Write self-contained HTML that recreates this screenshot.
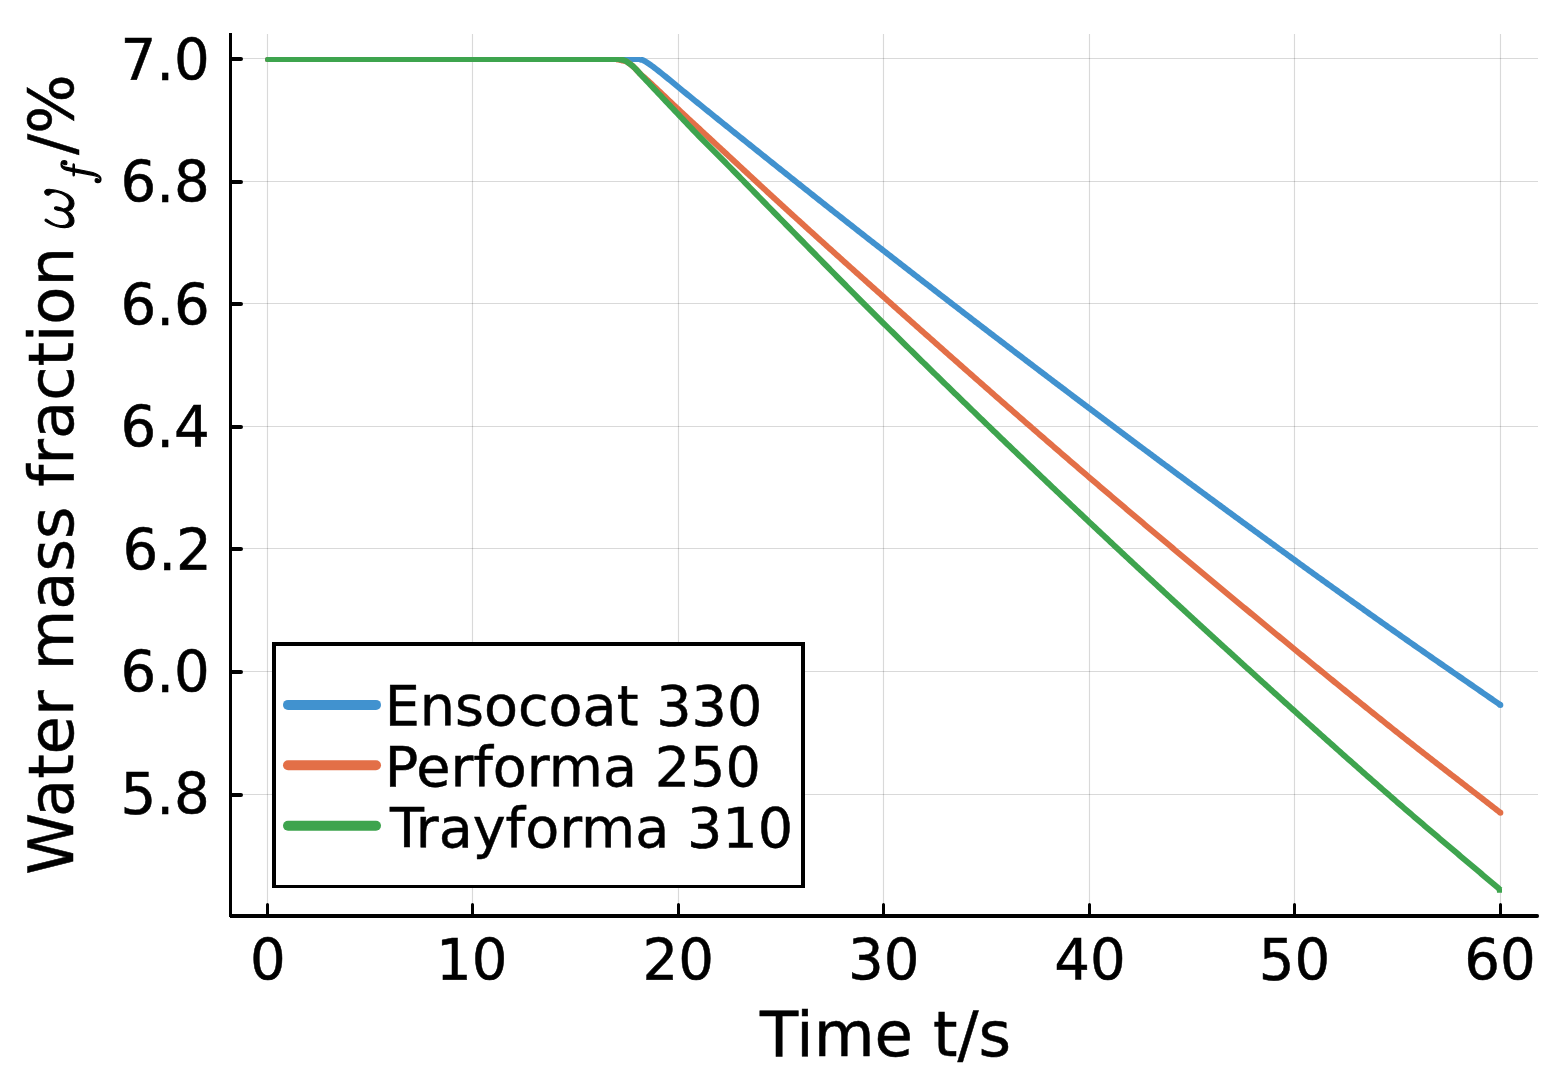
<!DOCTYPE html>
<html><head><meta charset="utf-8"><title>Water mass fraction vs time</title>
<style>html,body{margin:0;padding:0;background:#fff;}svg{display:block;}</style></head>
<body>
<svg width="1560" height="1080" viewBox="0 0 1560 1080">
<rect width="1560" height="1080" fill="#ffffff"/>
<path d="M267.5,34V916M472.5,34V916M678.5,34V916M883.5,34V916M1089.5,34V916M1294.5,34V916M1500.5,34V916" stroke="#000" stroke-opacity="0.15" stroke-width="1.15" fill="none"/>
<path d="M230.5,58.5H1538M230.5,181.5H1538M230.5,303.5H1538M230.5,426.5H1538M230.5,548.5H1538M230.5,671.5H1538M230.5,794.5H1538" stroke="#000" stroke-opacity="0.15" stroke-width="1.15" fill="none"/>
<defs><clipPath id="pc"><rect x="229" y="57" width="1311" height="860"/></clipPath></defs>
<path d="M267.5,57H640.3V62H267.5A2.5,2.5 0 0 1 267.5,57Z" fill="#4192CF"/>
<path clip-path="url(#pc)" d="M639.8,59.50L641.3,59.74 642.8,60.12 644.3,60.90 645.8,61.77 647.3,62.74 648.8,63.73 650.3,64.74 651.8,65.80 653.3,66.91 654.8,68.05 656.3,69.21 657.8,70.39 659.3,71.59 660.8,72.78 662.3,73.98 663.8,75.18 665.3,76.40 666.8,77.62 668.3,78.86 669.8,80.10 671.3,81.34 672.8,82.59 674.3,83.83 675.8,85.07 677.3,86.30 678.8,87.53 680.3,88.75 681.8,89.97 683.3,91.19 684.8,92.41 686.3,93.63 687.8,94.85 689.3,96.07 690.8,97.28 692.3,98.50 693.8,99.72 695.3,100.93 696.8,102.15 698.3,103.36 699.8,104.58 701.3,105.79 702.8,107.01 704.3,108.22 705.8,109.43 707.3,110.65 708.8,111.86 710.3,113.07 711.8,114.28 713.3,115.49 714.8,116.70 716.3,117.91 717.8,119.12 719.3,120.33 720.8,121.54 722.3,122.75 723.8,123.95 725.3,125.16 726.8,126.37 728.3,127.57 729.8,128.78 731.3,129.99 732.8,131.19 734.3,132.40 735.8,133.60 737.3,134.80 738.8,136.01 740.3,137.21 741.8,138.41 743.3,139.62 744.8,140.82 746.3,142.02 747.8,143.22 749.3,144.42 750.8,145.62 752.3,146.82 753.8,148.03 755.3,149.23 756.8,150.42 758.3,151.62 759.8,152.82 761.3,154.02 762.8,155.22 764.3,156.42 765.8,157.62 767.3,158.81 768.8,160.01 770.3,161.21 771.8,162.41 773.3,163.60 774.8,164.80 776.3,165.99 777.8,167.19 779.3,168.39 780.8,169.58 782.3,170.78 783.8,171.97 785.3,173.17 786.8,174.36 788.3,175.55 789.8,176.75 791.3,177.94 792.8,179.14 794.3,180.33 795.8,181.52 797.3,182.72 798.8,183.91 800.3,185.10 801.8,186.29 803.3,187.48 804.8,188.68 806.3,189.87 807.8,191.06 809.3,192.25 810.8,193.44 812.3,194.63 813.8,195.82 815.3,197.01 816.8,198.20 818.3,199.38 819.8,200.57 821.3,201.76 822.8,202.95 824.3,204.14 825.8,205.32 827.3,206.51 828.8,207.70 830.3,208.88 831.8,210.07 833.3,211.25 834.8,212.44 836.3,213.62 837.8,214.80 839.3,215.99 840.8,217.17 842.3,218.35 843.8,219.53 845.3,220.72 846.8,221.90 848.3,223.08 849.8,224.26 851.3,225.44 852.8,226.62 854.3,227.80 855.8,228.98 857.3,230.15 858.8,231.33 860.3,232.51 861.8,233.68 863.3,234.86 864.8,236.04 866.3,237.21 867.8,238.38 869.3,239.56 870.8,240.73 872.3,241.90 873.8,243.08 875.3,244.25 876.8,245.42 878.3,246.59 879.8,247.76 881.3,248.93 882.8,250.10 884.3,251.27 885.8,252.44 887.3,253.60 888.8,254.77 890.3,255.94 891.8,257.10 893.3,258.27 894.8,259.44 896.3,260.60 897.8,261.77 899.3,262.94 900.8,264.10 902.3,265.27 903.8,266.43 905.3,267.60 906.8,268.76 908.3,269.93 909.8,271.09 911.3,272.25 912.8,273.42 914.3,274.58 915.8,275.74 917.3,276.91 918.8,278.07 920.3,279.23 921.8,280.39 923.3,281.55 924.8,282.71 926.3,283.88 927.8,285.04 929.3,286.20 930.8,287.36 932.3,288.52 933.8,289.68 935.3,290.84 936.8,292.00 938.3,293.15 939.8,294.31 941.3,295.47 942.8,296.63 944.3,297.79 945.8,298.94 947.3,300.10 948.8,301.26 950.3,302.42 951.8,303.57 953.3,304.73 954.8,305.88 956.3,307.04 957.8,308.20 959.3,309.35 960.8,310.50 962.3,311.66 963.8,312.81 965.3,313.97 966.8,315.12 968.3,316.27 969.8,317.43 971.3,318.58 972.8,319.73 974.3,320.89 975.8,322.04 977.3,323.19 978.8,324.34 980.3,325.49 981.8,326.64 983.3,327.79 984.8,328.94 986.3,330.09 987.8,331.24 989.3,332.39 990.8,333.54 992.3,334.69 993.8,335.84 995.3,336.99 996.8,338.13 998.3,339.28 999.8,340.43 1001.3,341.58 1002.8,342.72 1004.3,343.87 1005.8,345.01 1007.3,346.16 1008.8,347.31 1010.3,348.45 1011.8,349.60 1013.3,350.74 1014.8,351.89 1016.3,353.03 1017.8,354.17 1019.3,355.32 1020.8,356.46 1022.3,357.60 1023.8,358.74 1025.3,359.89 1026.8,361.03 1028.3,362.17 1029.8,363.31 1031.3,364.45 1032.8,365.59 1034.3,366.73 1035.8,367.87 1037.3,369.01 1038.8,370.15 1040.3,371.29 1041.8,372.43 1043.3,373.57 1044.8,374.71 1046.3,375.84 1047.8,376.98 1049.3,378.12 1050.8,379.26 1052.3,380.39 1053.8,381.53 1055.3,382.66 1056.8,383.80 1058.3,384.94 1059.8,386.07 1061.3,387.20 1062.8,388.34 1064.3,389.47 1065.8,390.61 1067.3,391.74 1068.8,392.87 1070.3,394.01 1071.8,395.14 1073.3,396.27 1074.8,397.40 1076.3,398.53 1077.8,399.66 1079.3,400.80 1080.8,401.93 1082.3,403.06 1083.8,404.19 1085.3,405.31 1086.8,406.44 1088.3,407.57 1089.8,408.70 1091.3,409.83 1092.8,410.96 1094.3,412.08 1095.8,413.21 1097.3,414.34 1098.8,415.47 1100.3,416.59 1101.8,417.72 1103.3,418.84 1104.8,419.97 1106.3,421.09 1107.8,422.22 1109.3,423.34 1110.8,424.47 1112.3,425.59 1113.8,426.72 1115.3,427.84 1116.8,428.96 1118.3,430.09 1119.8,431.21 1121.3,432.33 1122.8,433.45 1124.3,434.57 1125.8,435.70 1127.3,436.82 1128.8,437.94 1130.3,439.06 1131.8,440.18 1133.3,441.30 1134.8,442.42 1136.3,443.54 1137.8,444.66 1139.3,445.77 1140.8,446.89 1142.3,448.01 1143.8,449.13 1145.3,450.25 1146.8,451.36 1148.3,452.48 1149.8,453.60 1151.3,454.71 1152.8,455.83 1154.3,456.95 1155.8,458.06 1157.3,459.18 1158.8,460.29 1160.3,461.41 1161.8,462.52 1163.3,463.64 1164.8,464.75 1166.3,465.86 1167.8,466.98 1169.3,468.09 1170.8,469.20 1172.3,470.31 1173.8,471.43 1175.3,472.54 1176.8,473.65 1178.3,474.76 1179.8,475.87 1181.3,476.98 1182.8,478.09 1184.3,479.20 1185.8,480.31 1187.3,481.42 1188.8,482.53 1190.3,483.64 1191.8,484.75 1193.3,485.86 1194.8,486.96 1196.3,488.07 1197.8,489.18 1199.3,490.28 1200.8,491.39 1202.3,492.50 1203.8,493.60 1205.3,494.71 1206.8,495.82 1208.3,496.92 1209.8,498.03 1211.3,499.13 1212.8,500.23 1214.3,501.34 1215.8,502.44 1217.3,503.55 1218.8,504.65 1220.3,505.75 1221.8,506.85 1223.3,507.96 1224.8,509.06 1226.3,510.16 1227.8,511.26 1229.3,512.36 1230.8,513.46 1232.3,514.56 1233.8,515.66 1235.3,516.76 1236.8,517.86 1238.3,518.96 1239.8,520.06 1241.3,521.16 1242.8,522.26 1244.3,523.36 1245.8,524.45 1247.3,525.55 1248.8,526.65 1250.3,527.74 1251.8,528.84 1253.3,529.94 1254.8,531.03 1256.3,532.13 1257.8,533.22 1259.3,534.32 1260.8,535.41 1262.3,536.51 1263.8,537.60 1265.3,538.70 1266.8,539.79 1268.3,540.88 1269.8,541.98 1271.3,543.07 1272.8,544.16 1274.3,545.25 1275.8,546.34 1277.3,547.43 1278.8,548.53 1280.3,549.62 1281.8,550.71 1283.3,551.80 1284.8,552.89 1286.3,553.98 1287.8,555.07 1289.3,556.15 1290.8,557.24 1292.3,558.33 1293.8,559.42 1295.3,560.51 1296.8,561.59 1298.3,562.68 1299.8,563.77 1301.3,564.85 1302.8,565.94 1304.3,567.02 1305.8,568.11 1307.3,569.19 1308.8,570.28 1310.3,571.36 1311.8,572.44 1313.3,573.52 1314.8,574.60 1316.3,575.69 1317.8,576.77 1319.3,577.85 1320.8,578.93 1322.3,580.01 1323.8,581.08 1325.3,582.16 1326.8,583.24 1328.3,584.32 1329.8,585.39 1331.3,586.47 1332.8,587.55 1334.3,588.62 1335.8,589.70 1337.3,590.77 1338.8,591.85 1340.3,592.92 1341.8,593.99 1343.3,595.07 1344.8,596.14 1346.3,597.21 1347.8,598.28 1349.3,599.35 1350.8,600.42 1352.3,601.49 1353.8,602.56 1355.3,603.63 1356.8,604.70 1358.3,605.77 1359.8,606.84 1361.3,607.90 1362.8,608.97 1364.3,610.04 1365.8,611.10 1367.3,612.17 1368.8,613.23 1370.3,614.30 1371.8,615.36 1373.3,616.43 1374.8,617.49 1376.3,618.55 1377.8,619.62 1379.3,620.68 1380.8,621.74 1382.3,622.80 1383.8,623.86 1385.3,624.92 1386.8,625.98 1388.3,627.04 1389.8,628.10 1391.3,629.16 1392.8,630.22 1394.3,631.27 1395.8,632.33 1397.3,633.39 1398.8,634.45 1400.3,635.50 1401.8,636.56 1403.3,637.61 1404.8,638.66 1406.3,639.71 1407.8,640.77 1409.3,641.82 1410.8,642.87 1412.3,643.92 1413.8,644.97 1415.3,646.01 1416.8,647.06 1418.3,648.11 1419.8,649.15 1421.3,650.20 1422.8,651.24 1424.3,652.29 1425.8,653.33 1427.3,654.38 1428.8,655.42 1430.3,656.46 1431.8,657.50 1433.3,658.55 1434.8,659.59 1436.3,660.63 1437.8,661.67 1439.3,662.71 1440.8,663.75 1442.3,664.79 1443.8,665.83 1445.3,666.87 1446.8,667.90 1448.3,668.94 1449.8,669.98 1451.3,671.02 1452.8,672.06 1454.3,673.09 1455.8,674.13 1457.3,675.17 1458.8,676.21 1460.3,677.24 1461.8,678.28 1463.3,679.32 1464.8,680.35 1466.3,681.39 1467.8,682.43 1469.3,683.46 1470.8,684.50 1472.3,685.54 1473.8,686.58 1475.3,687.61 1476.8,688.65 1478.3,689.69 1479.8,690.72 1481.3,691.76 1482.8,692.80 1484.3,693.84 1485.8,694.88 1487.3,695.92 1488.8,696.95 1490.3,697.99 1491.8,699.03 1493.3,700.07 1494.8,701.11 1496.3,702.15 1497.8,703.19 1499.3,704.24 1500.4,705.00" stroke="#4192CF" stroke-width="5.9" fill="none" stroke-linejoin="round" stroke-linecap="butt"/>
<circle cx="1500.4" cy="705.0" r="2.95" fill="#4192CF"/>
<path d="M267.5,57H617.0V62H267.5A2.5,2.5 0 0 1 267.5,57Z" fill="#E36F47"/>
<path clip-path="url(#pc)" d="M616.5,59.50L618.0,59.67 619.5,59.87 621.0,60.18 622.5,60.64 624.0,60.92 625.5,61.21 627.0,61.83 628.5,62.92 630.0,63.99 631.5,65.12 633.0,66.37 634.5,67.78 636.0,69.31 637.5,70.93 639.0,72.59 640.5,74.12 642.0,75.40 643.5,76.69 645.0,78.00 646.5,79.36 648.0,80.74 649.5,82.14 651.0,83.53 652.5,84.93 654.0,86.34 655.5,87.75 657.0,89.17 658.5,90.59 660.0,92.00 661.5,93.42 663.0,94.83 664.5,96.25 666.0,97.68 667.5,99.10 669.0,100.52 670.5,101.95 672.0,103.37 673.5,104.79 675.0,106.20 676.5,107.62 678.0,109.02 679.5,110.43 681.0,111.83 682.5,113.23 684.0,114.63 685.5,116.02 687.0,117.41 688.5,118.80 690.0,120.19 691.5,121.58 693.0,122.97 694.5,124.36 696.0,125.75 697.5,127.14 699.0,128.53 700.5,129.92 702.0,131.31 703.5,132.70 705.0,134.08 706.5,135.47 708.0,136.86 709.5,138.25 711.0,139.64 712.5,141.02 714.0,142.41 715.5,143.80 717.0,145.19 718.5,146.57 720.0,147.96 721.5,149.35 723.0,150.74 724.5,152.13 726.0,153.52 727.5,154.91 729.0,156.31 730.5,157.70 732.0,159.09 733.5,160.48 735.0,161.88 736.5,163.27 738.0,164.66 739.5,166.06 741.0,167.45 742.5,168.85 744.0,170.24 745.5,171.63 747.0,173.03 748.5,174.42 750.0,175.81 751.5,177.20 753.0,178.60 754.5,179.99 756.0,181.38 757.5,182.77 759.0,184.16 760.5,185.55 762.0,186.93 763.5,188.32 765.0,189.71 766.5,191.09 768.0,192.48 769.5,193.86 771.0,195.24 772.5,196.62 774.0,198.00 775.5,199.38 777.0,200.75 778.5,202.13 780.0,203.50 781.5,204.87 783.0,206.25 784.5,207.62 786.0,208.99 787.5,210.35 789.0,211.72 790.5,213.09 792.0,214.46 793.5,215.82 795.0,217.19 796.5,218.56 798.0,219.92 799.5,221.28 801.0,222.65 802.5,224.01 804.0,225.37 805.5,226.73 807.0,228.10 808.5,229.46 810.0,230.82 811.5,232.18 813.0,233.53 814.5,234.89 816.0,236.25 817.5,237.61 819.0,238.96 820.5,240.32 822.0,241.68 823.5,243.03 825.0,244.38 826.5,245.74 828.0,247.09 829.5,248.44 831.0,249.80 832.5,251.15 834.0,252.50 835.5,253.85 837.0,255.20 838.5,256.55 840.0,257.90 841.5,259.25 843.0,260.60 844.5,261.94 846.0,263.29 847.5,264.64 849.0,265.98 850.5,267.33 852.0,268.67 853.5,270.02 855.0,271.36 856.5,272.71 858.0,274.05 859.5,275.39 861.0,276.74 862.5,278.08 864.0,279.42 865.5,280.76 867.0,282.10 868.5,283.44 870.0,284.78 871.5,286.12 873.0,287.46 874.5,288.80 876.0,290.14 877.5,291.47 879.0,292.81 880.5,294.15 882.0,295.49 883.5,296.82 885.0,298.16 886.5,299.49 888.0,300.83 889.5,302.16 891.0,303.50 892.5,304.84 894.0,306.17 895.5,307.51 897.0,308.84 898.5,310.18 900.0,311.51 901.5,312.84 903.0,314.18 904.5,315.51 906.0,316.85 907.5,318.18 909.0,319.51 910.5,320.85 912.0,322.18 913.5,323.51 915.0,324.84 916.5,326.18 918.0,327.51 919.5,328.84 921.0,330.17 922.5,331.51 924.0,332.84 925.5,334.17 927.0,335.50 928.5,336.83 930.0,338.16 931.5,339.49 933.0,340.82 934.5,342.15 936.0,343.48 937.5,344.81 939.0,346.14 940.5,347.47 942.0,348.80 943.5,350.12 945.0,351.45 946.5,352.78 948.0,354.11 949.5,355.43 951.0,356.76 952.5,358.09 954.0,359.41 955.5,360.74 957.0,362.07 958.5,363.39 960.0,364.72 961.5,366.04 963.0,367.37 964.5,368.69 966.0,370.01 967.5,371.34 969.0,372.66 970.5,373.98 972.0,375.31 973.5,376.63 975.0,377.95 976.5,379.27 978.0,380.59 979.5,381.91 981.0,383.24 982.5,384.56 984.0,385.88 985.5,387.20 987.0,388.51 988.5,389.83 990.0,391.15 991.5,392.47 993.0,393.79 994.5,395.10 996.0,396.42 997.5,397.74 999.0,399.05 1000.5,400.37 1002.0,401.68 1003.5,403.00 1005.0,404.31 1006.5,405.63 1008.0,406.94 1009.5,408.25 1011.0,409.57 1012.5,410.88 1014.0,412.19 1015.5,413.50 1017.0,414.81 1018.5,416.12 1020.0,417.43 1021.5,418.74 1023.0,420.05 1024.5,421.36 1026.0,422.67 1027.5,423.98 1029.0,425.29 1030.5,426.59 1032.0,427.90 1033.5,429.20 1035.0,430.51 1036.5,431.82 1038.0,433.12 1039.5,434.42 1041.0,435.73 1042.5,437.03 1044.0,438.33 1045.5,439.63 1047.0,440.94 1048.5,442.24 1050.0,443.54 1051.5,444.84 1053.0,446.14 1054.5,447.44 1056.0,448.73 1057.5,450.03 1059.0,451.33 1060.5,452.63 1062.0,453.92 1063.5,455.22 1065.0,456.51 1066.5,457.81 1068.0,459.10 1069.5,460.40 1071.0,461.69 1072.5,462.98 1074.0,464.27 1075.5,465.56 1077.0,466.85 1078.5,468.14 1080.0,469.43 1081.5,470.72 1083.0,472.01 1084.5,473.30 1086.0,474.59 1087.5,475.87 1089.0,477.16 1090.5,478.44 1092.0,479.73 1093.5,481.01 1095.0,482.29 1096.5,483.58 1098.0,484.86 1099.5,486.14 1101.0,487.42 1102.5,488.71 1104.0,489.99 1105.5,491.27 1107.0,492.55 1108.5,493.82 1110.0,495.10 1111.5,496.38 1113.0,497.66 1114.5,498.94 1116.0,500.21 1117.5,501.49 1119.0,502.76 1120.5,504.04 1122.0,505.31 1123.5,506.59 1125.0,507.86 1126.5,509.14 1128.0,510.41 1129.5,511.68 1131.0,512.95 1132.5,514.22 1134.0,515.50 1135.5,516.77 1137.0,518.04 1138.5,519.31 1140.0,520.57 1141.5,521.84 1143.0,523.11 1144.5,524.38 1146.0,525.65 1147.5,526.91 1149.0,528.18 1150.5,529.45 1152.0,530.71 1153.5,531.98 1155.0,533.24 1156.5,534.50 1158.0,535.77 1159.5,537.03 1161.0,538.29 1162.5,539.56 1164.0,540.82 1165.5,542.08 1167.0,543.34 1168.5,544.60 1170.0,545.86 1171.5,547.12 1173.0,548.38 1174.5,549.64 1176.0,550.90 1177.5,552.16 1179.0,553.42 1180.5,554.67 1182.0,555.93 1183.5,557.19 1185.0,558.44 1186.5,559.70 1188.0,560.96 1189.5,562.21 1191.0,563.47 1192.5,564.72 1194.0,565.97 1195.5,567.23 1197.0,568.48 1198.5,569.73 1200.0,570.99 1201.5,572.24 1203.0,573.49 1204.5,574.74 1206.0,575.99 1207.5,577.24 1209.0,578.49 1210.5,579.74 1212.0,580.99 1213.5,582.24 1215.0,583.49 1216.5,584.74 1218.0,585.99 1219.5,587.23 1221.0,588.48 1222.5,589.73 1224.0,590.98 1225.5,592.22 1227.0,593.47 1228.5,594.71 1230.0,595.96 1231.5,597.20 1233.0,598.45 1234.5,599.69 1236.0,600.94 1237.5,602.18 1239.0,603.42 1240.5,604.67 1242.0,605.91 1243.5,607.15 1245.0,608.39 1246.5,609.64 1248.0,610.88 1249.5,612.12 1251.0,613.36 1252.5,614.60 1254.0,615.84 1255.5,617.08 1257.0,618.32 1258.5,619.56 1260.0,620.80 1261.5,622.04 1263.0,623.28 1264.5,624.51 1266.0,625.75 1267.5,626.99 1269.0,628.23 1270.5,629.46 1272.0,630.70 1273.5,631.94 1275.0,633.17 1276.5,634.41 1278.0,635.64 1279.5,636.88 1281.0,638.11 1282.5,639.35 1284.0,640.58 1285.5,641.82 1287.0,643.05 1288.5,644.29 1290.0,645.52 1291.5,646.75 1293.0,647.99 1294.5,649.22 1296.0,650.45 1297.5,651.68 1299.0,652.91 1300.5,654.15 1302.0,655.38 1303.5,656.61 1305.0,657.84 1306.5,659.07 1308.0,660.30 1309.5,661.53 1311.0,662.75 1312.5,663.98 1314.0,665.21 1315.5,666.44 1317.0,667.66 1318.5,668.89 1320.0,670.12 1321.5,671.34 1323.0,672.57 1324.5,673.79 1326.0,675.01 1327.5,676.24 1329.0,677.46 1330.5,678.68 1332.0,679.90 1333.5,681.13 1335.0,682.35 1336.5,683.57 1338.0,684.79 1339.5,686.00 1341.0,687.22 1342.5,688.44 1344.0,689.66 1345.5,690.88 1347.0,692.09 1348.5,693.31 1350.0,694.52 1351.5,695.74 1353.0,696.95 1354.5,698.16 1356.0,699.37 1357.5,700.59 1359.0,701.80 1360.5,703.01 1362.0,704.22 1363.5,705.42 1365.0,706.63 1366.5,707.84 1368.0,709.05 1369.5,710.25 1371.0,711.46 1372.5,712.66 1374.0,713.87 1375.5,715.07 1377.0,716.27 1378.5,717.47 1380.0,718.67 1381.5,719.87 1383.0,721.07 1384.5,722.27 1386.0,723.47 1387.5,724.66 1389.0,725.86 1390.5,727.06 1392.0,728.25 1393.5,729.44 1395.0,730.64 1396.5,731.83 1398.0,733.02 1399.5,734.21 1401.0,735.39 1402.5,736.58 1404.0,737.77 1405.5,738.95 1407.0,740.13 1408.5,741.32 1410.0,742.50 1411.5,743.68 1413.0,744.86 1414.5,746.03 1416.0,747.21 1417.5,748.39 1419.0,749.56 1420.5,750.73 1422.0,751.91 1423.5,753.08 1425.0,754.25 1426.5,755.42 1428.0,756.59 1429.5,757.76 1431.0,758.93 1432.5,760.09 1434.0,761.26 1435.5,762.43 1437.0,763.59 1438.5,764.76 1440.0,765.92 1441.5,767.09 1443.0,768.25 1444.5,769.41 1446.0,770.57 1447.5,771.74 1449.0,772.90 1450.5,774.06 1452.0,775.22 1453.5,776.38 1455.0,777.54 1456.5,778.70 1458.0,779.86 1459.5,781.02 1461.0,782.18 1462.5,783.34 1464.0,784.50 1465.5,785.66 1467.0,786.82 1468.5,787.98 1470.0,789.14 1471.5,790.30 1473.0,791.46 1474.5,792.62 1476.0,793.78 1477.5,794.94 1479.0,796.10 1480.5,797.26 1482.0,798.42 1483.5,799.58 1485.0,800.75 1486.5,801.91 1488.0,803.07 1489.5,804.23 1491.0,805.40 1492.5,806.56 1494.0,807.73 1495.5,808.89 1497.0,810.06 1498.5,811.22 1500.0,812.39 1500.4,812.70" stroke="#E36F47" stroke-width="5.9" fill="none" stroke-linejoin="round" stroke-linecap="butt"/>
<circle cx="1500.4" cy="812.7" r="2.95" fill="#E36F47"/>
<path d="M267.5,57H619.5V62H267.5A2.5,2.5 0 0 1 267.5,57Z" fill="#3EA44E"/>
<path clip-path="url(#pc)" d="M619.0,59.50L620.5,59.63 622.0,59.78 623.5,60.09 625.0,60.67 626.5,61.47 628.0,62.54 629.5,63.61 631.0,64.71 632.5,65.91 634.0,67.27 635.5,68.77 637.0,70.36 638.5,72.01 640.0,73.69 641.5,75.37 643.0,76.99 644.5,78.58 646.0,80.17 647.5,81.76 649.0,83.35 650.5,84.94 652.0,86.53 653.5,88.12 655.0,89.71 656.5,91.31 658.0,92.90 659.5,94.49 661.0,96.08 662.5,97.67 664.0,99.27 665.5,100.86 667.0,102.45 668.5,104.04 670.0,105.62 671.5,107.21 673.0,108.80 674.5,110.38 676.0,111.97 677.5,113.55 679.0,115.13 680.5,116.72 682.0,118.30 683.5,119.89 685.0,121.48 686.5,123.06 688.0,124.65 689.5,126.23 691.0,127.81 692.5,129.38 694.0,130.95 695.5,132.51 697.0,134.06 698.5,135.60 700.0,137.13 701.5,138.65 703.0,140.16 704.5,141.66 706.0,143.16 707.5,144.65 709.0,146.14 710.5,147.63 712.0,149.11 713.5,150.60 715.0,152.09 716.5,153.59 718.0,155.09 719.5,156.60 721.0,158.12 722.5,159.63 724.0,161.15 725.5,162.67 727.0,164.20 728.5,165.72 730.0,167.25 731.5,168.78 733.0,170.31 734.5,171.84 736.0,173.37 737.5,174.91 739.0,176.44 740.5,177.98 742.0,179.51 743.5,181.05 745.0,182.59 746.5,184.13 748.0,185.67 749.5,187.21 751.0,188.75 752.5,190.29 754.0,191.83 755.5,193.37 757.0,194.92 758.5,196.46 760.0,198.00 761.5,199.54 763.0,201.08 764.5,202.62 766.0,204.16 767.5,205.70 769.0,207.23 770.5,208.77 772.0,210.31 773.5,211.84 775.0,213.37 776.5,214.91 778.0,216.44 779.5,217.97 781.0,219.50 782.5,221.02 784.0,222.55 785.5,224.08 787.0,225.61 788.5,227.14 790.0,228.67 791.5,230.20 793.0,231.73 794.5,233.25 796.0,234.79 797.5,236.32 799.0,237.85 800.5,239.38 802.0,240.91 803.5,242.44 805.0,243.97 806.5,245.50 808.0,247.03 809.5,248.56 811.0,250.09 812.5,251.62 814.0,253.15 815.5,254.68 817.0,256.21 818.5,257.74 820.0,259.27 821.5,260.80 823.0,262.32 824.5,263.85 826.0,265.38 827.5,266.91 829.0,268.43 830.5,269.96 832.0,271.48 833.5,273.01 835.0,274.53 836.5,276.06 838.0,277.58 839.5,279.10 841.0,280.62 842.5,282.14 844.0,283.66 845.5,285.18 847.0,286.70 848.5,288.22 850.0,289.74 851.5,291.25 853.0,292.77 854.5,294.28 856.0,295.79 857.5,297.30 859.0,298.81 860.5,300.32 862.0,301.83 863.5,303.34 865.0,304.84 866.5,306.35 868.0,307.85 869.5,309.35 871.0,310.85 872.5,312.35 874.0,313.85 875.5,315.35 877.0,316.84 878.5,318.34 880.0,319.83 881.5,321.32 883.0,322.81 884.5,324.29 886.0,325.78 887.5,327.27 889.0,328.75 890.5,330.24 892.0,331.72 893.5,333.20 895.0,334.69 896.5,336.17 898.0,337.65 899.5,339.13 901.0,340.61 902.5,342.09 904.0,343.57 905.5,345.05 907.0,346.53 908.5,348.00 910.0,349.48 911.5,350.96 913.0,352.43 914.5,353.91 916.0,355.38 917.5,356.86 919.0,358.33 920.5,359.80 922.0,361.28 923.5,362.75 925.0,364.22 926.5,365.69 928.0,367.16 929.5,368.63 931.0,370.10 932.5,371.57 934.0,373.03 935.5,374.50 937.0,375.97 938.5,377.43 940.0,378.90 941.5,380.36 943.0,381.83 944.5,383.29 946.0,384.76 947.5,386.22 949.0,387.68 950.5,389.14 952.0,390.60 953.5,392.06 955.0,393.52 956.5,394.98 958.0,396.44 959.5,397.90 961.0,399.36 962.5,400.81 964.0,402.27 965.5,403.73 967.0,405.18 968.5,406.64 970.0,408.09 971.5,409.54 973.0,411.00 974.5,412.45 976.0,413.90 977.5,415.35 979.0,416.81 980.5,418.26 982.0,419.71 983.5,421.16 985.0,422.60 986.5,424.05 988.0,425.50 989.5,426.95 991.0,428.40 992.5,429.84 994.0,431.29 995.5,432.73 997.0,434.18 998.5,435.62 1000.0,437.07 1001.5,438.51 1003.0,439.95 1004.5,441.39 1006.0,442.83 1007.5,444.28 1009.0,445.72 1010.5,447.16 1012.0,448.60 1013.5,450.03 1015.0,451.47 1016.5,452.91 1018.0,454.35 1019.5,455.79 1021.0,457.22 1022.5,458.66 1024.0,460.09 1025.5,461.53 1027.0,462.96 1028.5,464.40 1030.0,465.83 1031.5,467.26 1033.0,468.70 1034.5,470.13 1036.0,471.56 1037.5,472.99 1039.0,474.42 1040.5,475.85 1042.0,477.28 1043.5,478.71 1045.0,480.14 1046.5,481.56 1048.0,482.99 1049.5,484.42 1051.0,485.85 1052.5,487.27 1054.0,488.70 1055.5,490.12 1057.0,491.55 1058.5,492.97 1060.0,494.39 1061.5,495.82 1063.0,497.24 1064.5,498.66 1066.0,500.08 1067.5,501.50 1069.0,502.93 1070.5,504.35 1072.0,505.77 1073.5,507.18 1075.0,508.60 1076.5,510.02 1078.0,511.44 1079.5,512.86 1081.0,514.27 1082.5,515.69 1084.0,517.11 1085.5,518.52 1087.0,519.94 1088.5,521.35 1090.0,522.77 1091.5,524.18 1093.0,525.59 1094.5,527.00 1096.0,528.42 1097.5,529.83 1099.0,531.24 1100.5,532.65 1102.0,534.06 1103.5,535.47 1105.0,536.88 1106.5,538.28 1108.0,539.69 1109.5,541.10 1111.0,542.51 1112.5,543.91 1114.0,545.32 1115.5,546.72 1117.0,548.13 1118.5,549.53 1120.0,550.93 1121.5,552.34 1123.0,553.74 1124.5,555.14 1126.0,556.54 1127.5,557.94 1129.0,559.34 1130.5,560.74 1132.0,562.14 1133.5,563.54 1135.0,564.94 1136.5,566.33 1138.0,567.73 1139.5,569.13 1141.0,570.52 1142.5,571.92 1144.0,573.31 1145.5,574.71 1147.0,576.10 1148.5,577.50 1150.0,578.89 1151.5,580.28 1153.0,581.67 1154.5,583.06 1156.0,584.46 1157.5,585.85 1159.0,587.24 1160.5,588.63 1162.0,590.02 1163.5,591.40 1165.0,592.79 1166.5,594.18 1168.0,595.57 1169.5,596.95 1171.0,598.34 1172.5,599.73 1174.0,601.11 1175.5,602.50 1177.0,603.88 1178.5,605.26 1180.0,606.65 1181.5,608.03 1183.0,609.41 1184.5,610.79 1186.0,612.18 1187.5,613.56 1189.0,614.94 1190.5,616.32 1192.0,617.70 1193.5,619.08 1195.0,620.46 1196.5,621.84 1198.0,623.21 1199.5,624.59 1201.0,625.97 1202.5,627.34 1204.0,628.72 1205.5,630.10 1207.0,631.47 1208.5,632.85 1210.0,634.22 1211.5,635.60 1213.0,636.97 1214.5,638.34 1216.0,639.72 1217.5,641.09 1219.0,642.46 1220.5,643.83 1222.0,645.20 1223.5,646.57 1225.0,647.94 1226.5,649.31 1228.0,650.68 1229.5,652.05 1231.0,653.42 1232.5,654.79 1234.0,656.16 1235.5,657.52 1237.0,658.89 1238.5,660.26 1240.0,661.62 1241.5,662.99 1243.0,664.36 1244.5,665.72 1246.0,667.09 1247.5,668.45 1249.0,669.81 1250.5,671.18 1252.0,672.54 1253.5,673.90 1255.0,675.27 1256.5,676.63 1258.0,677.99 1259.5,679.35 1261.0,680.71 1262.5,682.07 1264.0,683.43 1265.5,684.79 1267.0,686.15 1268.5,687.51 1270.0,688.87 1271.5,690.23 1273.0,691.58 1274.5,692.94 1276.0,694.30 1277.5,695.66 1279.0,697.01 1280.5,698.37 1282.0,699.72 1283.5,701.08 1285.0,702.44 1286.5,703.79 1288.0,705.14 1289.5,706.50 1291.0,707.85 1292.5,709.21 1294.0,710.56 1295.5,711.91 1297.0,713.26 1298.5,714.62 1300.0,715.97 1301.5,717.32 1303.0,718.67 1304.5,720.02 1306.0,721.37 1307.5,722.72 1309.0,724.07 1310.5,725.41 1312.0,726.76 1313.5,728.11 1315.0,729.45 1316.5,730.80 1318.0,732.14 1319.5,733.49 1321.0,734.83 1322.5,736.18 1324.0,737.52 1325.5,738.86 1327.0,740.20 1328.5,741.54 1330.0,742.89 1331.5,744.23 1333.0,745.56 1334.5,746.90 1336.0,748.24 1337.5,749.58 1339.0,750.91 1340.5,752.25 1342.0,753.59 1343.5,754.92 1345.0,756.25 1346.5,757.59 1348.0,758.92 1349.5,760.25 1351.0,761.58 1352.5,762.91 1354.0,764.24 1355.5,765.57 1357.0,766.90 1358.5,768.22 1360.0,769.55 1361.5,770.87 1363.0,772.20 1364.5,773.52 1366.0,774.84 1367.5,776.17 1369.0,777.49 1370.5,778.81 1372.0,780.13 1373.5,781.45 1375.0,782.76 1376.5,784.08 1378.0,785.40 1379.5,786.71 1381.0,788.02 1382.5,789.34 1384.0,790.65 1385.5,791.96 1387.0,793.27 1388.5,794.58 1390.0,795.89 1391.5,797.19 1393.0,798.50 1394.5,799.81 1396.0,801.11 1397.5,802.41 1399.0,803.72 1400.5,805.02 1402.0,806.31 1403.5,807.61 1405.0,808.91 1406.5,810.20 1408.0,811.49 1409.5,812.79 1411.0,814.08 1412.5,815.37 1414.0,816.65 1415.5,817.94 1417.0,819.23 1418.5,820.51 1420.0,821.79 1421.5,823.08 1423.0,824.36 1424.5,825.64 1426.0,826.92 1427.5,828.19 1429.0,829.47 1430.5,830.75 1432.0,832.02 1433.5,833.30 1435.0,834.57 1436.5,835.85 1438.0,837.12 1439.5,838.39 1441.0,839.66 1442.5,840.93 1444.0,842.20 1445.5,843.47 1447.0,844.74 1448.5,846.01 1450.0,847.28 1451.5,848.55 1453.0,849.82 1454.5,851.08 1456.0,852.35 1457.5,853.62 1459.0,854.88 1460.5,856.15 1462.0,857.42 1463.5,858.68 1465.0,859.95 1466.5,861.21 1468.0,862.48 1469.5,863.75 1471.0,865.01 1472.5,866.28 1474.0,867.55 1475.5,868.81 1477.0,870.08 1478.5,871.35 1480.0,872.62 1481.5,873.88 1483.0,875.15 1484.5,876.42 1486.0,877.69 1487.5,878.96 1489.0,880.23 1490.5,881.50 1492.0,882.77 1493.5,884.04 1495.0,885.31 1496.5,886.59 1498.0,887.86 1499.5,889.13 1500.4,889.90" stroke="#3EA44E" stroke-width="5.9" fill="none" stroke-linejoin="round" stroke-linecap="butt"/>
<path d="M1496.5,886.6L1502,888.4V892.8H1497Z" fill="#3EA44E"/>
<path d="M230.5,33V917" stroke="#000" stroke-width="3" fill="none"/>
<path d="M230,916H1537.2" stroke="#000" stroke-width="4" fill="none"/><circle cx="1537.2" cy="916" r="1.9" fill="#000"/>
<path d="M231,59.0H241M231,182.0H241M231,304.0H241M231,427.0H241M231,549.0H241M231,672.0H241M231,795.0H241" stroke="#000" stroke-width="4" stroke-linecap="round" fill="none"/>
<path d="M267.5,915V904.5M472.5,915V904.5M678.5,915V904.5M883.5,915V904.5M1089.5,915V904.5M1294.5,915V904.5M1500.5,915V904.5" stroke="#000" stroke-width="3" stroke-linecap="round" fill="none"/>
<g font-family="DejaVu Sans, Liberation Sans, sans-serif" stroke="#000" stroke-width="0.5" font-size="56.2" fill="#000">
<text transform="translate(120.50,79.75)">7.0</text>
<text transform="translate(120.50,201.75)">6.8</text>
<text transform="translate(120.50,324.75)">6.6</text>
<text transform="translate(120.50,446.75)">6.4</text>
<text transform="translate(122.50,569.75)">6.2</text>
<text transform="translate(120.50,691.75)">6.0</text>
<text transform="translate(120.50,813.75)">5.8</text>
<text transform="translate(250.00,979.75)">0</text>
<text transform="translate(435.97,979.75)">10</text>
<text transform="translate(642.43,979.75)">20</text>
<text transform="translate(847.90,979.75)">30</text>
<text transform="translate(1054.37,979.75)">40</text>
<text transform="translate(1258.84,979.75)">50</text>
<text transform="translate(1464.30,979.75)">60</text>
</g>
<text font-family="DejaVu Sans, Liberation Sans, sans-serif" stroke="#000" stroke-width="0.5" font-size="62.5" x="760.1" y="1055.7">Time t/s</text>
<text font-family="DejaVu Sans, Liberation Sans, sans-serif" stroke="#000" stroke-width="0.5" font-size="62.4" transform="translate(73.1,874.8) rotate(-90)">Water mass fraction</text>
<text font-family="Latin Modern Math, DejaVu Math TeX Gyre, DejaVu Serif, serif" font-size="65" stroke="#000" stroke-width="1.1" transform="translate(72.7,228.4) rotate(-90)">&#x1D714;</text>
<text font-family="Latin Modern Math, DejaVu Math TeX Gyre, DejaVu Serif, serif" font-size="44" stroke="#000" stroke-width="1.2" transform="translate(91.9,185.1) rotate(-90)">&#x1D453;</text>
<text font-family="DejaVu Sans, Liberation Sans, sans-serif" stroke="#000" stroke-width="0.5" font-size="62.5" transform="translate(72.9,154.9) rotate(-90)">/%</text>
<rect x="272" y="642" width="533" height="246" fill="#fff"/>
<path d="M272,642h533v4h-533zM272,885h533v3h-533zM272,642h4v246h-4zM801,642h4v246h-4z" fill="#000"/>
<path d="M288,704.9H376" stroke="#4192CF" stroke-width="10" stroke-linecap="round"/>
<path d="M288,765.2H376" stroke="#E36F47" stroke-width="10" stroke-linecap="round"/>
<path d="M288,825.8H376" stroke="#3EA44E" stroke-width="10" stroke-linecap="round"/>
<g font-family="DejaVu Sans, Liberation Sans, sans-serif" stroke="#000" stroke-width="0.5" font-size="55.6" fill="#000">
<text x="384.7" y="724.75">Ensocoat 330</text>
<text x="384.7" y="785.75">Performa 250</text>
<text x="390" y="846.75">Trayforma 310</text>
</g>
</svg>
</body></html>
